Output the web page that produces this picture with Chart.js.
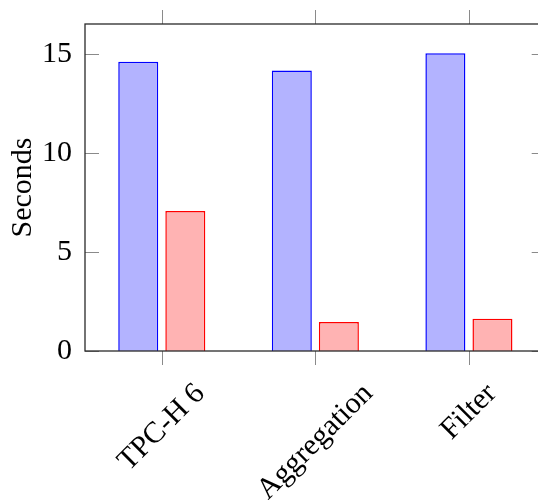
<!DOCTYPE html>
<html>
<head>
<meta charset="utf-8">
<script src="https://cdn.jsdelivr.net/npm/chart.js@4.4.1/dist/chart.umd.min.js"></script>
<style>
    html, body { margin: 0; padding: 0; background: #fff; overflow: hidden; }
    #wrap { width: 538px; height: 500px; overflow: hidden; }
</style>
</head>
<body>
<div id="wrap"><canvas id="chart" width="560" height="500"></canvas></div>
<script>
const categories = ['TPC-H 6', 'Aggregation', 'Filter'];
const blueValues = [14.6, 14.15, 15.02];
const redValues = [7.07, 1.46, 1.63];
const yTicks = [0, 5, 10, 15];

const FONT = '"Liberation Serif", "Times New Roman", serif';

// pgfplots style frame, inward y ticks, outward x ticks, rotated labels
const framePlugin = {
    id: 'frame',
    afterDraw(chart) {
        const { ctx, chartArea: a, scales } = chart;
        const x = scales.x, y = scales.y;
        ctx.save();

        ctx.strokeStyle = '#8a8a8a';
        ctx.lineWidth = 1;
        ctx.beginPath();
        yTicks.forEach(v => {
            const py = Math.round(y.getPixelForValue(v)) + 0.5;
            ctx.moveTo(a.left, py); ctx.lineTo(a.left + 14, py);
            ctx.moveTo(a.right, py); ctx.lineTo(a.right - 14, py);
        });
        categories.forEach((c, i) => {
            const px = Math.round(x.getPixelForValue(i)) + 0.5;
            ctx.moveTo(px, a.bottom); ctx.lineTo(px, a.bottom + 14);
            ctx.moveTo(px, a.top); ctx.lineTo(px, a.top - 14);
        });
        ctx.stroke();

        ctx.strokeStyle = '#2a2a2a';
        ctx.lineWidth = 1.3;
        ctx.strokeRect(a.left, a.top, a.right - a.left, a.bottom - a.top);

        ctx.fillStyle = '#000';
        ctx.font = '30px ' + FONT;
        ctx.textAlign = 'center';
        ctx.textBaseline = 'middle';
        categories.forEach((c, i) => {
            const w = ctx.measureText(c).width;
            const cx = x.getPixelForValue(i);
            const cy = 389 + w * 0.3536;
            ctx.save();
            ctx.translate(cx, cy);
            ctx.rotate(-Math.PI / 4);
            ctx.fillText(c, 0, 0);
            ctx.restore();
        });

        ctx.save();
        ctx.translate(23, (a.top + a.bottom) / 2);
        ctx.rotate(-Math.PI / 2);
        ctx.fillText('Seconds', 0, 0);
        ctx.restore();

        ctx.restore();
    }
};

new Chart(document.getElementById('chart'), {
    type: 'bar',
    data: {
        labels: categories,
        datasets: [{
            data: blueValues,
            backgroundColor: '#b3b3ff',
            borderColor: '#0000ff',
            borderWidth: 1.5
        }, {
            data: redValues,
            backgroundColor: '#ffb3b3',
            borderColor: '#ff0000',
            borderWidth: 1.5
        }]
    },
    options: {
        responsive: false,
        animation: false,
        categoryPercentage: 0.613,
        barPercentage: 0.85,
        layout: { padding: { top: 24, right: 14.3, left: 0, bottom: 0 } },
        plugins: { legend: { display: false }, tooltip: { enabled: false } },
        scales: {
            x: {
                grid: { display: false, drawTicks: false },
                border: { display: false },
                ticks: { display: false },
                afterFit(scale) {
                    scale.height = 149;
                    scale.paddingLeft = 0;
                    scale.paddingRight = 0;
                }
            },
            y: {
                min: 0,
                max: 16.5,
                grid: { display: false, drawTicks: false },
                border: { display: false },
                ticks: {
                    stepSize: 5,
                    includeBounds: false,
                    padding: 13,
                    color: '#000',
                    font: { family: FONT, size: 30 },
                    callback: v => (v % 5 === 0 ? v : '')
                },
                afterFit(scale) {
                    scale.width = 85;
                    scale.paddingTop = 0;
                    scale.paddingBottom = 0;
                }
            }
        }
    },
    plugins: [framePlugin]
});
</script>
</body>
</html>
